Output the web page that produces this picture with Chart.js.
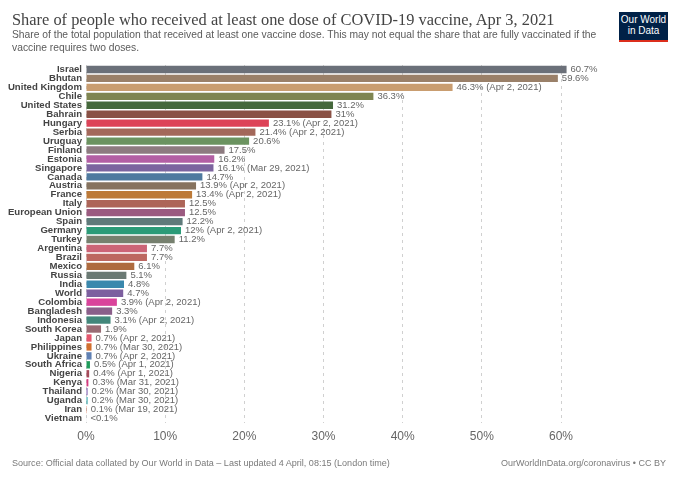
<!DOCTYPE html>
<html>
<head>
<meta charset="utf-8">
<script src="https://cdn.jsdelivr.net/npm/chart.js@4/dist/chart.umd.min.js"></script>
<style>
    html, body { margin: 0; padding: 0; background: #fff; }
    #wrap { position: relative; width: 680px; height: 480px; overflow: hidden; }
    #wrap canvas { position: absolute; left: 0; top: 0; }
    .txt { position: absolute; white-space: nowrap; font-family: "Liberation Sans", sans-serif; }
    #title { left: 12px; top: 10px; font-family: "Liberation Serif", serif; font-size: 16.4px; color: #444; }
    #subtitle { left: 12px; top: 29px; font-size: 10.3px; line-height: 12.5px; color: #5b5b5b; }
    #source { left: 12px; top: 458px; font-size: 9.05px; color: #7a7a7a; }
    #credit { right: 14px; top: 458px; font-size: 9px; color: #7a7a7a; }
    #logo { position: absolute; left: 619px; top: 12px; width: 49px; height: 25px; background: #002147;
            border-bottom: 2.5px solid #dc2e1c; color: #fff; font-family: "Liberation Sans", sans-serif;
            font-size: 10px; line-height: 10.5px; text-align: center; padding-top: 3px; }
</style>
</head>
<body>
<div id="wrap">
    <canvas id="vaccineChart" width="680" height="480"></canvas>
    <div class="txt" id="title">Share of people who received at least one dose of COVID-19 vaccine, Apr 3, 2021</div>
    <div class="txt" id="subtitle">Share of the total population that received at least one vaccine dose. This may not equal the share that are fully vaccinated if the<br>vaccine requires two doses.</div>
    <div id="logo">Our World<br>in Data</div>
    <div class="txt" id="source">Source: Official data collated by Our World in Data – Last updated 4 April, 08:15 (London time)</div>
    <div class="txt" id="credit">OurWorldInData.org/coronavirus • CC BY</div>
</div>
<script>
const countries = ['Israel', 'Bhutan', 'United Kingdom', 'Chile', 'United States', 'Bahrain', 'Hungary', 'Serbia', 'Uruguay', 'Finland',
    'Estonia', 'Singapore', 'Canada', 'Austria', 'France', 'Italy', 'European Union', 'Spain', 'Germany', 'Turkey',
    'Argentina', 'Brazil', 'Mexico', 'Russia', 'India', 'World', 'Colombia', 'Bangladesh', 'Indonesia', 'South Korea',
    'Japan', 'Philippines', 'Ukraine', 'South Africa', 'Nigeria', 'Kenya', 'Thailand', 'Uganda', 'Iran', 'Vietnam'];

const shares = [60.7, 59.6, 46.3, 36.3, 31.2, 31, 23.1, 21.4, 20.6, 17.5,
    16.2, 16.1, 14.7, 13.9, 13.4, 12.5, 12.5, 12.2, 12, 11.2,
    7.7, 7.7, 6.1, 5.1, 4.8, 4.7, 3.9, 3.3, 3.1, 1.9,
    0.7, 0.7, 0.7, 0.5, 0.4, 0.3, 0.2, 0.2, 0.1, 0.05];

const shareLabels = ['60.7%', '59.6%', '46.3%', '36.3%', '31.2%', '31%', '23.1%', '21.4%', '20.6%', '17.5%',
    '16.2%', '16.1%', '14.7%', '13.9%', '13.4%', '12.5%', '12.5%', '12.2%', '12%', '11.2%',
    '7.7%', '7.7%', '6.1%', '5.1%', '4.8%', '4.7%', '3.9%', '3.3%', '3.1%', '1.9%',
    '0.7%', '0.7%', '0.7%', '0.5%', '0.4%', '0.3%', '0.2%', '0.2%', '0.1%', '<0.1%'];

const dateNotes = ['', '', 'Apr 2, 2021', '', '', '', 'Apr 2, 2021', 'Apr 2, 2021', '', '',
    '', 'Mar 29, 2021', '', 'Apr 2, 2021', 'Apr 2, 2021', '', '', '', 'Apr 2, 2021', '',
    '', '', '', '', '', '', 'Apr 2, 2021', '', 'Apr 2, 2021', '',
    'Apr 2, 2021', 'Mar 30, 2021', 'Apr 2, 2021', 'Apr 1, 2021', 'Apr 1, 2021', 'Mar 31, 2021', 'Mar 30, 2021', 'Mar 30, 2021', 'Mar 19, 2021', ''];

const barColors = ['#6b7079', '#9a8069', '#c99d70', '#7f8551', '#45683c', '#8a5145', '#dd4358', '#a3685a', '#6b9360', '#8d7b80',
    '#b35fa4', '#7c649f', '#4f7a9f', '#86735f', '#bd7a38', '#ad6558', '#9b5a80', '#5f7a7a', '#2b9b78', '#76806f',
    '#cc6477', '#bd6760', '#ae6b3f', '#6b7a74', '#3a88ad', '#7d5f9f', '#d9439b', '#8a5f8a', '#43877b', '#996c74',
    '#e4566c', '#d26f2e', '#5f80b3', '#1f9b5a', '#a64a5a', '#d6397f', '#7f5fb0', '#2fa3a8', '#d2552e', '#b9c2cc'];

const xTicks = [0, 10, 20, 30, 40, 50, 60];

// value labels at the end of each bar
const barLabels = {
    id: 'barLabels',
    afterDatasetsDraw(chart) {
        const ctx = chart.ctx;
        const meta = chart.getDatasetMeta(0);
        ctx.save();
        ctx.font = '9.5px "Liberation Sans", sans-serif';
        ctx.fillStyle = '#666';
        ctx.textBaseline = 'middle';
        meta.data.forEach((bar, i) => {
            const text = dateNotes[i] ? shareLabels[i] + ' (' + dateNotes[i] + ')' : shareLabels[i];
            ctx.fillText(text, bar.x + 4, bar.y);
        });
        ctx.restore();
    }
};

new Chart(document.getElementById('vaccineChart').getContext('2d'), {
    type: 'bar',
    plugins: [barLabels],
    data: {
        labels: countries,
        datasets: [{
            data: shares,
            backgroundColor: barColors,
            borderWidth: 0,
            barPercentage: 0.82,
            categoryPercentage: 1
        }]
    },
    options: {
        indexAxis: 'y',
        responsive: false,
        animation: false,
        layout: { padding: { top: 65, right: 20, bottom: 0, left: 0 } },
        plugins: {
            legend: { display: false },
            tooltip: { enabled: false }
        },
        scales: {
            x: {
                min: 0,
                max: 72.5,
                afterFit: scale => { scale.height = 57; },
                afterBuildTicks: scale => { scale.ticks = xTicks.map(v => ({ value: v })); },
                grid: { color: '#d0d0d0', drawTicks: false },
                border: { display: false, dash: [3, 4] },
                ticks: {
                    color: '#666',
                    padding: 6,
                    maxRotation: 0,
                    font: { family: '"Liberation Sans", sans-serif', size: 12 },
                    callback: value => value + '%'
                }
            },
            y: {
                afterFit: scale => { scale.width = 86; },
                grid: { display: false, drawTicks: false },
                border: { display: false },
                ticks: {
                    autoSkip: false,
                    padding: 4,
                    color: '#444',
                    font: { family: '"Liberation Sans", sans-serif', size: 9.6, weight: 'bold' }
                }
            }
        }
    }
});
</script>
</body>
</html>
